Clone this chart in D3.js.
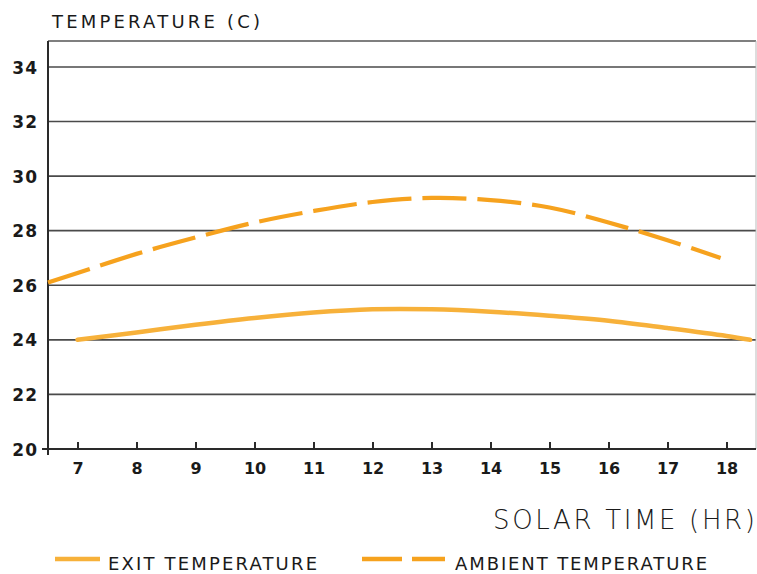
<!DOCTYPE html>
<html>
<head>
<meta charset="utf-8">
<script src="https://cdn.jsdelivr.net/npm/d3@7"></script>
<style>
  html, body { margin: 0; padding: 0; background: #fff; }
  svg { display: block; }
  text { font-family: "DejaVu Sans", sans-serif; fill: #1a1a1a; }
</style>
</head>
<body>
<script>
// Solar time (hours) and temperatures (°C)
const exitHours = [7, 8, 9, 10, 11, 12, 13, 14, 15, 16, 17, 18, 18.4];
const exitTemps = [24.0, 24.27, 24.55, 24.8, 25.0, 25.12, 25.12, 25.03, 24.88, 24.7, 24.43, 24.14, 24.0];

const ambientHours = [6.5, 7, 8, 9, 10, 11, 12, 13, 14, 15, 16, 17, 17.9];
const ambientTemps = [26.1, 26.45, 27.15, 27.75, 28.3, 28.72, 29.05, 29.2, 29.12, 28.85, 28.3, 27.65, 27.0];

const xTicks = [7, 8, 9, 10, 11, 12, 13, 14, 15, 16, 17, 18];
const yTicks = [20, 22, 24, 26, 28, 30, 32, 34];

const width = 757, height = 574;
const plot = { left: 48, right: 756, top: 41, bottom: 449 };

const svg = d3.select("body").append("svg")
  .attr("width", width).attr("height", height);

const x = d3.scaleLinear().domain([6.5, 18.5]).range([plot.left, plot.right]);
const y = d3.scaleLinear().domain([20, 34.95]).range([plot.bottom, plot.top]);

const orange = "#F6A21E";
const orangeLight = "#F7B13A";
const ink = "#2a2a2a";

// Horizontal grid lines
svg.append("g")
  .selectAll("line")
  .data(yTicks.filter(d => d > 20))
  .join("line")
  .attr("x1", plot.left).attr("x2", plot.right)
  .attr("y1", d => y(d)).attr("y2", d => y(d))
  .attr("stroke", "#4a4a4a").attr("stroke-width", 1.6);

// Frame: top and right border
svg.append("line")
  .attr("x1", plot.left).attr("x2", plot.right)
  .attr("y1", plot.top).attr("y2", plot.top)
  .attr("stroke", "#555").attr("stroke-width", 1.4);
svg.append("line")
  .attr("x1", plot.right).attr("x2", plot.right)
  .attr("y1", plot.top).attr("y2", plot.bottom)
  .attr("stroke", "#bbb").attr("stroke-width", 1);

// Y axis
const yAxis = d3.axisLeft(y).tickValues(yTicks).tickSize(0).tickPadding(10)
  .tickFormat(d3.format("d"));
const gy = svg.append("g").attr("transform", `translate(${plot.left},0)`).call(yAxis);
gy.select(".domain").remove();
gy.append("line")
  .attr("x1", 0).attr("x2", 0)
  .attr("y1", plot.top).attr("y2", plot.bottom + 6)
  .attr("stroke", ink).attr("stroke-width", 2);
gy.selectAll(".tick text")
  .attr("font-size", 17).attr("font-weight", "bold")
  .attr("letter-spacing", 1).attr("fill", "#1a1a1a")
  .attr("dy", "0.36em");

// X axis with short inward ticks
const xAxis = d3.axisBottom(x).tickValues(xTicks).tickSize(0).tickPadding(14)
  .tickFormat(d3.format("d"));
const gx = svg.append("g").attr("transform", `translate(0,${plot.bottom})`).call(xAxis);
gx.select(".domain").remove();
gx.append("line")
  .attr("x1", plot.left - 6).attr("x2", plot.right)
  .attr("y1", 0).attr("y2", 0)
  .attr("stroke", ink).attr("stroke-width", 1.8);
gx.selectAll(".tick").append("line")
  .attr("y1", -7).attr("y2", 1)
  .attr("stroke", ink).attr("stroke-width", 2);
gx.selectAll(".tick text")
  .attr("font-size", 16).attr("font-weight", "bold")
  .attr("fill", "#1a1a1a");

// Curves
const line = d3.line()
  .x(d => x(d[0])).y(d => y(d[1]))
  .curve(d3.curveCatmullRom.alpha(0.5));

svg.append("path")
  .datum(d3.zip(exitHours, exitTemps))
  .attr("d", line)
  .attr("fill", "none")
  .attr("stroke", orangeLight).attr("stroke-width", 4.5)
  .attr("stroke-linecap", "round");

svg.append("path")
  .datum(d3.zip(ambientHours, ambientTemps))
  .attr("d", line)
  .attr("fill", "none")
  .attr("stroke", orange).attr("stroke-width", 4.2)
  .attr("stroke-dasharray", "44,11")
  .attr("stroke-linecap", "butt");

// Axis titles
svg.append("text")
  .attr("x", 52).attr("y", 28)
  .attr("font-size", 18)
  .attr("textLength", 208).attr("lengthAdjust", "spacing")
  .text("TEMPERATURE  (C)");

svg.append("text")
  .attr("x", 493).attr("y", 529)
  .attr("font-size", 26).attr("font-weight", 200)
  .attr("textLength", 262).attr("lengthAdjust", "spacing")
  .text("SOLAR TIME (HR)");

// Legend
const legendY = 559;
svg.append("line")
  .attr("x1", 55).attr("x2", 100)
  .attr("y1", legendY).attr("y2", legendY)
  .attr("stroke", orangeLight).attr("stroke-width", 4.5);
svg.append("text")
  .attr("x", 108).attr("y", 570)
  .attr("font-size", 18)
  .attr("textLength", 209).attr("lengthAdjust", "spacing")
  .text("EXIT  TEMPERATURE");

svg.append("line")
  .attr("x1", 362).attr("x2", 445)
  .attr("y1", legendY).attr("y2", legendY)
  .attr("stroke", orange).attr("stroke-width", 4.5)
  .attr("stroke-dasharray", "40,10");
svg.append("text")
  .attr("x", 455).attr("y", 570)
  .attr("font-size", 18)
  .attr("textLength", 252).attr("lengthAdjust", "spacing")
  .text("AMBIENT  TEMPERATURE");
</script>
</body>
</html>
